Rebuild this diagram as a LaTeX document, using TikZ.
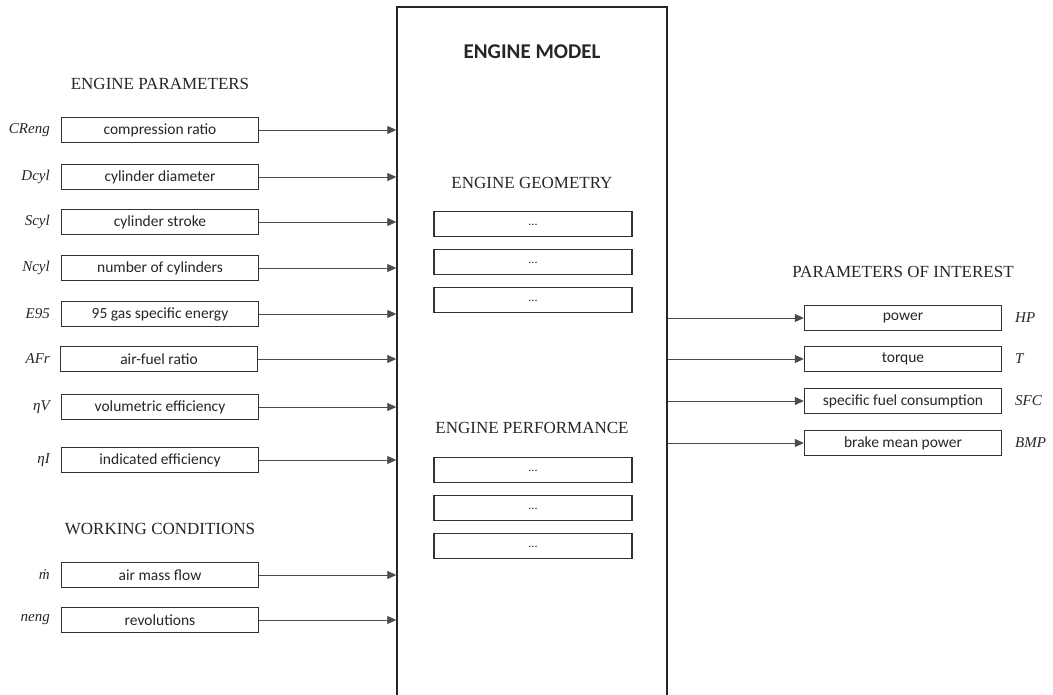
\documentclass[tikz,border=0pt]{standalone}
\usepackage{fontspec}
\setmainfont{Liberation Serif}
\newfontfamily\boxfont{Carlito}
\usetikzlibrary{arrows.meta}
\usetikzlibrary{positioning}

\begin{document}
\begin{tikzpicture}[x=1pt, y=-1pt, ->, >={Triangle[length=9pt,width=8pt]},
    box/.style = {draw=black!80, line width=1.4pt, minimum width=197pt, minimum height=25pt,
                  inner sep=0pt, font=\boxfont\fontsize{15.5}{17}\selectfont, text=black!85},
    inner/.style = {box, minimum width=198pt, font=\boxfont\fontsize{12}{14}\selectfont},
    var/.style = {font=\itshape\fontsize{15}{17}\selectfont, inner sep=0pt, text=black!85},
    head/.style = {font=\fontsize{17}{19}\selectfont, text=black!85},
    conn/.style = {draw=black!70, line width=0.8pt}]
    \clip (0,0) rectangle (1053,695);
    \fill[white] (0,0) rectangle (1053,695);
    % Nodes
    \node[draw=black!85, line width=1.4pt, minimum width=270pt, minimum height=700pt] (m) at (532,357) {};
    \node[font=\boxfont\bfseries\fontsize{21}{23}\selectfont, text=black!85] (mt) at (532,52) {ENGINE MODEL};
    \node[head] (g) at (532,183) {ENGINE GEOMETRY};
    \node[inner] (g1) at (533,224) {\raisebox{-3pt}{...}};
    \node[inner] (g2) at (533,262) {\raisebox{-3pt}{...}};
    \node[inner] (g3) at (533,300) {\raisebox{-3pt}{...}};
    \node[head] (f) at (532,428) {ENGINE PERFORMANCE};
    \node[inner] (f1) at (533,470) {\raisebox{-3pt}{...}};
    \node[inner] (f2) at (533,508) {\raisebox{-3pt}{...}};
    \node[inner] (f3) at (533,546) {\raisebox{-3pt}{...}};

    \node[head] (hp) at (160,84) {ENGINE PARAMETERS};
    \node[box] (1) at (160,130) {compression ratio};
    \node[box] (2) at (160,177) {cylinder diameter};
    \node[box] (3) at (160,222) {cylinder stroke};
    \node[box] (4) at (160,268) {number of cylinders};
    \node[box] (5) at (160,314) {95 gas specific energy};
    \node[box] (6) at (159,359) {air-fuel ratio};
    \node[box] (7) at (160,407) {volumetric efficiency};
    \node[box] (8) at (160,460) {indicated efficiency};
    \node[head] (hw) at (160,529) {WORKING CONDITIONS};
    \node[box] (9) at (160,575) {air mass flow};
    \node[box] (10) at (160,620) {revolutions};

    \node[var, anchor=east] (v1) at (50,130) {CReng};
    \node[var, anchor=east] (v2) at (50,177) {Dcyl};
    \node[var, anchor=east] (v3) at (50,222) {Scyl};
    \node[var, anchor=east] (v4) at (50,268) {Ncyl};
    \node[var, anchor=east] (v5) at (50,314) {E95};
    \node[var, anchor=east] (v6) at (50,359) {AFr};
    \node[var, anchor=east] (v7) at (50,407) {ηV};
    \node[var, anchor=east] (v8) at (50,460) {ηI};
    \node[var, anchor=east] (v9) at (50,575) {\.m};
    \node[var, anchor=east] (v10) at (50,620) {neng};

    \node[head] (ho) at (903,272) {PARAMETERS OF INTEREST};
    \node[box] (o1) at (903,318) {power};
    \node[box] (o2) at (903,359) {torque};
    \node[box] (o3) at (903,401) {specific fuel consumption};
    \node[box] (o4) at (903,443) {brake mean power};

    \node[var, anchor=west] (w1) at (1015,318) {HP};
    \node[var, anchor=west] (w2) at (1015,359) {T};
    \node[var, anchor=west] (w3) at (1015,401) {SFC};
    \node[var, anchor=west] (w4) at (1015,443) {BMP};
    % Edges
    \foreach \i in {1,...,10}
      \draw[conn] (\i.east) -- (\i.east -| m.west);
    \foreach \i in {1,...,4}
      \draw[conn] (o\i.west -| m.east) -- (o\i.west);

\end{tikzpicture}
\end{document}
